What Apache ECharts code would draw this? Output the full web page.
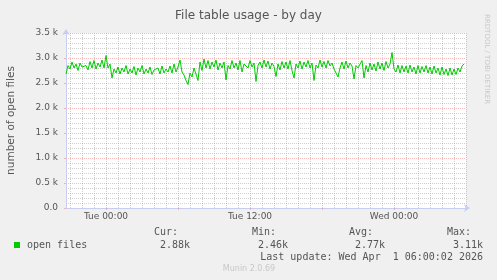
<!DOCTYPE html>
<html>
<head>
<meta charset="utf-8">
<script src="https://cdn.jsdelivr.net/npm/echarts@6/dist/echarts.min.js"></script>
<style>
html,body{margin:0;padding:0;background:#F0F0F0;}
#c{width:497px;height:280px;}
</style>
</head>
<body>
<div id="c"></div>
<script>
// ---- data (values in thousands of open files, one sample every 10 minutes) ----
const startHour = -10 / 3;         // Mon 20:40 relative to Tue 00:00
const stepHour = 1 / 6;            // 10 minutes
const openFiles = [
  2.68, 2.85, 2.78, 2.92, 2.80, 2.88, 2.75, 2.90, 2.82, 2.78,
  2.85, 2.76, 2.93, 2.80, 2.95, 2.78, 2.90, 2.82, 2.96, 2.80,
  3.05, 2.80, 2.88, 2.60, 2.78, 2.70, 2.82, 2.68, 2.80, 2.72,
  2.85, 2.68, 2.78, 2.70, 2.83, 2.66, 2.80, 2.72, 2.85, 2.68,
  2.78, 2.70, 2.82, 2.67, 2.76, 2.72, 2.80, 2.68, 2.84, 2.70,
  2.78, 2.72, 2.84, 2.70, 2.88, 2.72, 2.82, 2.96, 2.72, 2.66,
  2.55, 2.47, 2.70, 2.62, 2.80, 2.78, 2.55, 2.92, 2.75, 2.98,
  2.80, 2.95, 2.78, 2.92, 2.82, 2.96, 2.76, 2.90, 2.80, 2.92,
  2.56, 2.85, 2.78, 2.95, 2.80, 2.90, 2.76, 2.95, 2.72, 2.88,
  2.92, 2.80, 2.95, 2.82, 2.90, 2.53, 2.85, 2.92, 2.80, 2.96,
  2.82, 2.94, 2.78, 2.90, 2.83, 2.63, 2.88, 2.76, 2.93, 2.80,
  2.92, 2.78, 2.95, 2.75, 2.60, 2.88, 2.80, 2.94, 2.78, 2.92,
  2.82, 2.95, 2.80, 2.90, 2.55, 2.86, 2.80, 2.96, 2.82, 2.93,
  2.80, 2.95, 2.84, 2.90, 2.78, 2.74, 2.62, 2.80, 2.92, 2.78,
  2.94, 2.80, 2.90, 2.84, 2.58, 2.85, 2.80, 2.82, 2.95, 2.60,
  2.85, 2.72, 2.90, 2.76, 2.88, 2.74, 2.92, 2.78, 2.90, 2.75,
  2.93, 2.80, 2.88, 3.11, 2.78, 2.72, 2.86, 2.70, 2.85, 2.72,
  2.84, 2.70, 2.86, 2.72, 2.82, 2.68, 2.85, 2.70, 2.83, 2.72,
  2.85, 2.70, 2.82, 2.68, 2.84, 2.70, 2.80, 2.66, 2.82, 2.67,
  2.78, 2.65, 2.80, 2.66, 2.78, 2.67, 2.80, 2.72, 2.84, 2.88
];
const xTickHours = [0, 12, 24];
const xTickLabels = ['Tue 00:00', 'Tue 12:00', 'Wed 00:00'];
const xMajorHours = [0, 6, 12, 18, 24, 30];
const yMax = 3500;
const yStep = 500;
const statNames = ['Cur:', 'Min:', 'Avg:', 'Max:'];
const statValues = ['2.88k', '2.46k', '2.77k', '3.11k'];
const seriesName = 'open files';
const lastUpdate = 'Last update: Wed Apr  1 06:00:02 2026';

// ---- build ----
const endHour = startHour + 400 * 300 / 3600;
const seriesData = openFiles.map((v, i) => [startHour + i * stepHour, v * 1000]);
const minorHours = [];
for (let h = Math.ceil(startHour); h <= Math.floor(endHour); h++) {
  if (h % 6 !== 0) minorHours.push(h);
}
const MONO = '"DejaVu Sans Mono", monospace';
const SANS = '"DejaVu Sans", sans-serif';
const FONT = '#555555';
const AXIS = '#C8CEF2';
const MGRID = 'rgba(240,120,120,0.5)';
const GRID = 'rgba(150,150,150,0.45)';

const chart = echarts.init(document.getElementById('c'), null, {renderer: 'canvas'});
const baseX = {type: 'value', min: startHour, max: endHour, gridIndex: 0};

const statNameX = [154, 252, 349, 447];
const statValRight = [190, 288, 385, 483];
const graphics = [
  {type: 'rect', shape: {x: 14, y: 242, width: 6, height: 6}, style: {fill: '#00CC00'}},
  {type: 'text', style: {text: seriesName, x: 27, y: 245, font: '10px ' + MONO, fill: FONT, textVerticalAlign: 'middle'}},
  {type: 'text', style: {text: lastUpdate, x: 483, y: 257, font: '10px ' + MONO, fill: FONT, textAlign: 'right', textVerticalAlign: 'middle'}},
  {type: 'text', style: {text: 'Munin 2.0.69', x: 249, y: 269, font: '8px ' + SANS, fill: '#C8C8C8', textAlign: 'center', textVerticalAlign: 'middle'}},
  {type: 'text', rotation: -Math.PI / 2, x: 487, y: 14, style: {text: 'RRDTOOL / TOBI OETIKER', x: 0, y: 0, font: '7px ' + SANS, fill: '#C8C8C8', textAlign: 'left', textVerticalAlign: 'middle'}}
];
statNames.forEach((n, i) => {
  graphics.push({type: 'text', style: {text: n, x: statNameX[i], y: 232, font: '10px ' + MONO, fill: FONT, textVerticalAlign: 'middle'}});
  graphics.push({type: 'text', style: {text: statValues[i], x: statValRight[i], y: 245, font: '10px ' + MONO, fill: FONT, textAlign: 'right', textVerticalAlign: 'middle'}});
});

chart.setOption({
  backgroundColor: '#F0F0F0',
  animation: false,
  textStyle: {fontFamily: SANS},
  title: {
    text: 'File table usage - by day', left: 'center', top: 5,
    textStyle: {fontSize: 12, fontWeight: 'normal', color: FONT, fontFamily: SANS}
  },
  grid: {left: 66, top: 33, width: 400, height: 175, show: true, backgroundColor: '#FFFFFF', borderWidth: 0,
    containLabel: false, outerBoundsMode: 'none'},
  xAxis: [
    Object.assign({}, baseX, {
      position: 'bottom',
      axisLine: {show: true, onZero: false, lineStyle: {color: AXIS, width: 1}, symbol: ['none', 'arrow'], symbolSize: [6, 6], symbolOffset: [0, 4]},
      axisTick: {show: true, length: 2, customValues: xMajorHours, lineStyle: {color: MGRID}},
      axisLabel: {customValues: xTickHours, margin: 4, fontSize: 9, color: FONT, fontFamily: SANS,
        formatter: v => xTickLabels[xTickHours.indexOf(Math.round(v))] || ''},
      splitLine: {show: true, lineStyle: {color: MGRID, type: [1, 1], width: 1}},
      z: 3
    }),
    Object.assign({}, baseX, {
      position: 'bottom',
      axisLine: {show: false, onZero: false},
      axisTick: {show: false, customValues: minorHours},
      axisLabel: {show: false},
      splitLine: {show: true, lineStyle: {color: GRID, type: [1, 1], width: 1}}
    })
  ],
  yAxis: {
    type: 'value', min: 0, max: yMax, interval: yStep, position: 'left',
    name: 'number of open files', nameLocation: 'middle', nameGap: 49, nameRotate: 90,
    nameTextStyle: {fontSize: 10.5, color: FONT, fontFamily: SANS},
    axisLine: {show: true, onZero: false, lineStyle: {color: AXIS, width: 1}, symbol: ['none', 'arrow'], symbolSize: [6, 6], symbolOffset: [0, 4]},
    axisTick: {show: true, length: 2, lineStyle: {color: MGRID}},
    minorTick: {show: false, splitNumber: 5},
    minorSplitLine: {show: true, lineStyle: {color: GRID, type: [1, 1], width: 1}},
    splitLine: {show: true, lineStyle: {color: MGRID, type: [1, 1], width: 1}},
    axisLabel: {fontSize: 9, color: FONT, fontFamily: SANS, margin: 8,
      formatter: v => v === 0 ? '0.0' : (v / 1000).toFixed(1) + ' k'}
  },
  series: [{
    name: seriesName, type: 'line', xAxisIndex: 0, data: seriesData,
    showSymbol: false, symbol: 'none',
    lineStyle: {color: '#00CC00', width: 1}, z: 5
  }],
  graphic: graphics
});
</script>
</body>
</html>
